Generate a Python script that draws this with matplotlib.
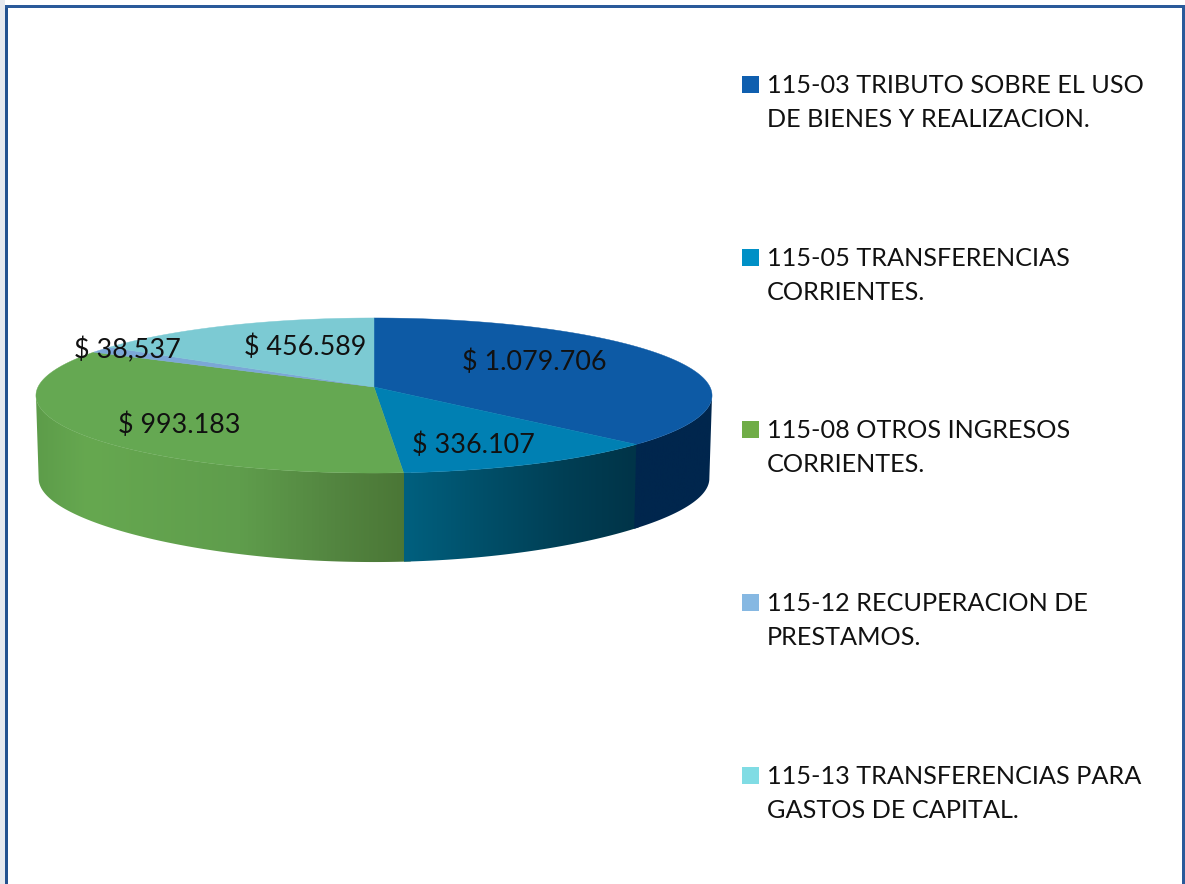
import numpy as np
import matplotlib
matplotlib.use('Agg')
import matplotlib.pyplot as plt
from matplotlib.colors import LinearSegmentedColormap
from matplotlib.patches import Polygon, Rectangle

### DATA ######################################################################
legend_labels = ['115-03 TRIBUTO SOBRE EL USO\nDE BIENES Y REALIZACION.',
                 '115-05 TRANSFERENCIAS\nCORRIENTES.',
                 '115-08 OTROS INGRESOS\nCORRIENTES.',
                 '115-12 RECUPERACION DE\nPRESTAMOS.',
                 '115-13 TRANSFERENCIAS PARA\nGASTOS DE CAPITAL.']
values = [1079706, 336107, 993183, 38537, 456589]
value_labels = ['$ 1.079.706', '$ 336.107', '$ 993.183', '$ 38,537', '$ 456.589']

### STYLE #####################################################################
top_colors = ['#0D5AA5', '#0080B3', '#65A852', '#7BA7D7', '#7CCAD3']
legend_colors = ['#0F5FAF', '#0090C6', '#70AD47', '#86B8E2', '#80DCE4']
label_pos = [(534, 362), (473, 445), (179, 425), (127, 350), (305, 347)]
legend_y = [84, 257, 429, 602, 775]
font = ['Lato', 'DejaVu Sans']

# pie geometry in pixels, k gives the perspective of the tilted disc
cx, cy = 374, 387
B, A, k = 336, 76.6, 0.1097
edge = np.arccos(k)   # where the disc is widest, seen from 6 o'clock

def project(theta):
    u, v = np.sin(theta), -np.cos(theta)
    den = 1 - k*v
    return cx + B*u/den, cy + A*v/den

def project_bottom(theta):
    x, y = project(theta)
    v = -np.cos(theta)
    return cx + (x-cx)*0.992, y + 83 + 6*v**4

fig = plt.figure(figsize=(11.85, 8.84), dpi=100)
ax = fig.add_axes([0, 0, 1, 1])

# slice angles, clockwise from 12 o'clock
angles = np.concatenate([[0], np.cumsum(values)/np.sum(values)*2*np.pi])
right_limit = np.pi - edge
left_limit = np.pi + edge

# side wall, only the front part is visible
def wall(a0, a1, stops, x0, x1):
    th = np.linspace(a0, a1, 200)
    xt, yt = project(th)
    xb, yb = project_bottom(th)
    pts = np.column_stack([np.r_[xt, xb[::-1]], np.r_[yt, yb[::-1]]])
    cmap = LinearSegmentedColormap.from_list('w', stops)
    im = ax.imshow(np.linspace(0, 1, 256).reshape(1, -1), cmap=cmap, aspect='auto',
                   extent=(x0, x1, 600, 300), zorder=1)
    im.set_clip_path(Polygon(pts, closed=True, transform=ax.transData))

# drawn left to right, each one a little under the next to hide the seams
wall(angles[2] - 0.02, left_limit, [(0, '#4A7535'), (0.2, '#538540'), (0.45, '#5F9D4C'),
                                    (0.85, '#66A850'), (1, '#5C9B49')], 412, 30)
wall(angles[1] - 0.02, angles[2], ['#00607F', '#004F69', '#003F55', '#003347'], 404, 642)
wall(right_limit, angles[1], ['#00264D', '#00264D'], 630, 720)

# top of the pie
for i in range(len(values)):
    th = np.linspace(angles[i], angles[i+1], 150)
    x, y = project(th)
    ax.fill(np.r_[cx, x], np.r_[cy, y], color=top_colors[i], lw=0.3, zorder=2)

for s, p in zip(value_labels, label_pos):
    ax.text(p[0], p[1], s, ha='center', va='center', fontsize=19.4, family=font,
            color='#111111', zorder=3)

# legend
for i in range(len(values)):
    ax.add_patch(Rectangle((742, legend_y[i]-8.5), 17, 17, color=legend_colors[i], lw=0))
    ax.text(767, legend_y[i]+18.5, legend_labels[i], ha='left', va='center', fontsize=18.2,
            family=font, color='#111111', linespacing=1.62)

# frame of the slide, no line at the bottom
ax.add_patch(Rectangle((0, 0), 4.5, 884, color='#E6E9EE', lw=0, zorder=4))
ax.add_patch(Rectangle((5, 5), 3, 879, color='#23528F', lw=0, zorder=5))
ax.add_patch(Rectangle((5, 4.5), 1180, 3.5, color='#2A5A9A', lw=0, zorder=5))
ax.add_patch(Rectangle((1182, 5), 2.5, 879, color='#2A5A9A', lw=0, zorder=5))

ax.set_xlim(0, 1185)
ax.set_ylim(884, 0)
ax.axis('off')

plt.savefig('out.png', dpi=100, facecolor='white')
